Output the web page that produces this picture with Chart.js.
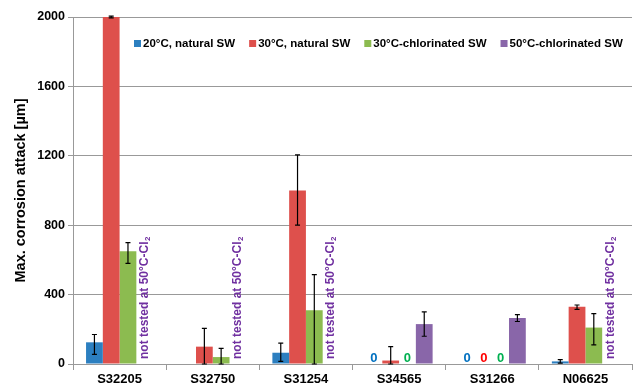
<!DOCTYPE html>
<html lang="en">
<head>
  <meta charset="UTF-8" />
  <title>Max. corrosion attack</title>
  <script src="https://cdn.jsdelivr.net/npm/chart.js"></script>
  <style>
    html, body { margin: 0; padding: 0; background: #fff; }
    #wrap { width: 633px; height: 389px; }
  </style>
</head>
<body>
  <div id="wrap"><canvas id="chart" width="633" height="389"></canvas></div>

  <script>
    const alloys = ["S32205", "S32750", "S31254", "S34565", "S31266", "N06625"];
    const seriesNames = ["20°C, natural SW", "30°C, natural SW", "30°C-chlorinated SW", "50°C-chlorinated SW"];
    const seriesColors = ["#2C7FC0", "#DE504C", "#8CBB50", "#8966A9"];
    const zeroColors = ["#0070C0", "#FF0000", "#00B050", "#7030A0"];

    // null = no bar
    const nat20 = [125, null, 65, 0, 0, 15];
    const nat30 = [2000, 100, 1000, 20, 0, 330];
    const chl30 = [650, 40, 310, 0, 0, 210];
    const chl50 = [null, null, null, 230, 265, null];

    // error bar ranges [low, high]
    const nat20Err = [[55, 170], null, [15, 120], null, null, [5, 25]];
    const nat30Err = [[1995, 2005], [0, 205], [800, 1205], [0, 100], null, [315, 340]];
    const chl30Err = [[580, 700], [0, 90], [0, 515], null, null, [110, 290]];
    const chl50Err = [null, null, null, [160, 300], [245, 285], null];

    const notTested = ["S32205", "S32750", "S31254", "N06625"];
    const yTicks = [0, 400, 800, 1200, 1600, 2000];

    const allValues = [nat20, nat30, chl30, chl50];
    const allErrs = [nat20Err, nat30Err, chl30Err, chl50Err];
    const catPct = 0.72;

    const extras = {
      id: "extras",
      afterDatasetsDraw(chart) {
        const ctx = chart.ctx;
        const x = chart.scales.x, y = chart.scales.y;
        const catW = (x.right - x.left) / alloys.length;
        const barW = catW * catPct / 4;
        ctx.save();
        // error bars
        ctx.strokeStyle = "#000";
        ctx.lineWidth = 1.2;
        allErrs.forEach((errs, d) => {
          errs.forEach((e, i) => {
            if (!e) return;
            const cx = x.getPixelForValue(i) + (d - 1.5) * barW;
            const y1 = y.getPixelForValue(e[0]), y2 = y.getPixelForValue(e[1]);
            ctx.beginPath();
            ctx.moveTo(cx, y1); ctx.lineTo(cx, y2);
            ctx.moveTo(cx - 2.5, y1); ctx.lineTo(cx + 2.5, y1);
            ctx.moveTo(cx - 2.5, y2); ctx.lineTo(cx + 2.5, y2);
            ctx.stroke();
          });
        });
        // zero labels
        ctx.font = "bold 13px 'Liberation Sans', Arial, sans-serif";
        ctx.textAlign = "center";
        ctx.textBaseline = "alphabetic";
        allValues.forEach((vals, d) => {
          vals.forEach((v, i) => {
            if (v !== 0) return;
            const cx = x.getPixelForValue(i) + (d - 1.5) * barW;
            ctx.fillStyle = zeroColors[d];
            ctx.fillText("0", cx, y.bottom - 2);
          });
        });
        // not tested notes
        ctx.fillStyle = "#7030A0";
        notTested.forEach(name => {
          const i = alloys.indexOf(name);
          const cx = x.getPixelForValue(i) + 1.5 * barW;
          ctx.save();
          ctx.translate(cx, y.bottom - 5);
          ctx.rotate(-Math.PI / 2);
          ctx.textAlign = "left";
          ctx.textBaseline = "middle";
          ctx.font = "bold 12px 'Liberation Sans', Arial, sans-serif";
          const main = "not tested at 50°C-Cl";
          ctx.fillText(main, 0, 0);
          const w = ctx.measureText(main).width;
          ctx.font = "bold 8px 'Liberation Sans', Arial, sans-serif";
          ctx.fillText("2", w + 0.5, 3);
          ctx.restore();
        });
        // legend inside plot
        ctx.font = "bold 11.5px 'Liberation Sans', Arial, sans-serif";
        ctx.textAlign = "left";
        ctx.textBaseline = "middle";
        let lx = 134;
        const ly = 44;
        seriesNames.forEach((n, d) => {
          ctx.fillStyle = seriesColors[d];
          ctx.fillRect(lx, ly - 4, 7, 7);
          ctx.fillStyle = "#000";
          ctx.fillText(n, lx + 9, ly);
          lx += 9 + ctx.measureText(n).width + 14;
        });
        ctx.restore();
      }
    };

    new Chart(document.getElementById("chart"), {
      type: "bar",
      data: {
        labels: alloys,
        datasets: allValues.map((vals, d) => ({
          label: seriesNames[d],
          data: vals,
          backgroundColor: seriesColors[d],
          borderWidth: 0,
          categoryPercentage: catPct,
          barPercentage: 1.0
        }))
      },
      options: {
        responsive: false,
        animation: false,
        layout: { padding: { top: 17, right: 1, left: 0, bottom: 0 } },
        plugins: {
          legend: { display: false },
          tooltip: { enabled: false }
        },
        scales: {
          x: {
            afterFit: s => { s.height = 25; },
            grid: { offset: true, drawOnChartArea: false, tickLength: 6, color: "#999" },
            border: { color: "#999" },
            ticks: {
              color: "#000",
              padding: 2,
              font: { family: "'Liberation Sans', Arial, sans-serif", size: 13, weight: "bold" }
            }
          },
          y: {
            min: 0,
            max: 2000,
            afterFit: s => { s.width = 73; },
            afterBuildTicks: s => { s.ticks = yTicks.map(v => ({ value: v })); },
            grid: { color: "#999", tickLength: 5 },
            border: { color: "#999" },
            ticks: {
              color: "#000",
              padding: 3,
              callback: v => String(v),
              font: { family: "'Liberation Sans', Arial, sans-serif", size: 12.5, weight: "bold" }
            },
            title: {
              display: true,
              text: "Max. corrosion attack [µm]",
              color: "#000",
              padding: { top: 12, bottom: 0 },
              font: { family: "'Liberation Sans', Arial, sans-serif", size: 14.5, weight: "bold" }
            }
          }
        }
      },
      plugins: [extras]
    });
  </script>
</body>
</html>
